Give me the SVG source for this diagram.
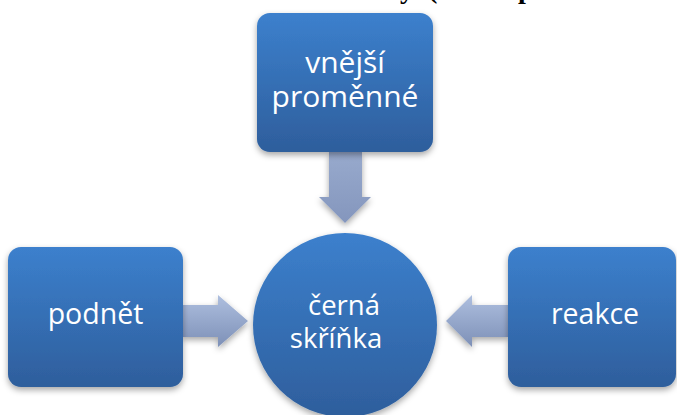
<svg xmlns="http://www.w3.org/2000/svg" width="677" height="415" viewBox="0 0 677 415">
<defs>
<linearGradient id="gBox" x1="0" y1="0" x2="0" y2="1">
<stop offset="0" stop-color="#3c80cd"/>
<stop offset="1" stop-color="#2e5e9c"/>
</linearGradient>
<linearGradient id="gArrow" x1="0" y1="0" x2="0" y2="1">
<stop offset="0" stop-color="#aebfdf"/>
<stop offset="1" stop-color="#7d90b7"/>
</linearGradient>
<linearGradient id="gArrowV" x1="0" y1="0" x2="0" y2="1">
<stop offset="0" stop-color="#98aacd"/>
<stop offset="1" stop-color="#8496bd"/>
</linearGradient>
<filter id="sh" x="-20%" y="-20%" width="140%" height="150%">
<feDropShadow dx="0" dy="3" stdDeviation="3" flood-color="#000" flood-opacity="0.35"/>
</filter>
</defs>
<style>
.box{fill:url(#gBox);filter:url(#sh)}
.lbl{font-family:"Open Sans","Noto Sans","DejaVu Sans",sans-serif;fill:#fff;text-anchor:middle}
.arrow{fill:url(#gArrow);filter:url(#sh)}
.title{font-family:"Liberation Serif","Times New Roman",serif;font-weight:bold;font-size:28px;fill:#000}
</style>
<rect width="677" height="415" fill="#fff"/>
<text class="title" y="-2"><tspan x="414" text-anchor="end">Model černé skříňky</tspan><tspan x="428">(S–R</tspan><tspan x="518">pohled behavioristů)</tspan></text>
<g id="connectors">
<path class="arrow" style="fill:url(#gArrowV)" d="M329,152 H362 V197 H371 L345,223 L319,197 H329 Z"/>
<path class="arrow" d="M183,305 H218 V295 L248,321 L218,347 V337 H183 Z"/>
<path class="arrow" d="M508,305 H472 V295 L446,321 L472,347 V337 H508 Z"/>
</g>
<g id="vnejsi">
<rect class="box" x="257" y="13" width="176" height="139" rx="13"/>
<text class="lbl" font-size="30"><tspan x="345" y="73">vnější</tspan><tspan x="345" y="107">proměnné</tspan></text>
</g>
<g id="podnet">
<rect class="box" x="8" y="247" width="175" height="140" rx="13"/>
<text class="lbl" font-size="28.5" x="95.5" y="324">podnět</text>
</g>
<g id="reakce">
<rect class="box" x="508" y="247" width="168" height="140" rx="13"/>
<text class="lbl" font-size="28.5" x="595" y="324">reakce</text>
</g>
<g id="cerna">
<circle class="box" cx="345" cy="325" r="92"/>
<text class="lbl" font-size="27.5"><tspan x="344" y="315">černá</tspan><tspan x="336" y="348">skříňka</tspan></text>
</g>
</svg>
